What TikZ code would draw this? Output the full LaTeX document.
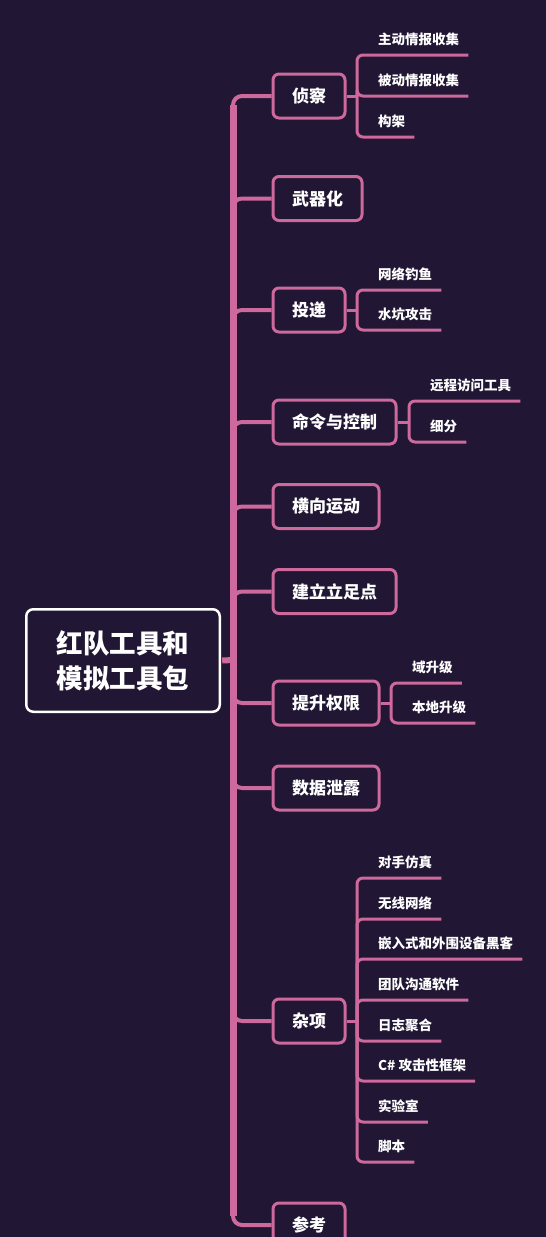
\documentclass[tikz,border=0pt]{standalone}
\usepackage{fontspec}
\newfontfamily\cjk{Noto Sans CJK SC}

\definecolor{bgpurple}{HTML}{211633}
\definecolor{mmpink}{HTML}{CD699C}

\tikzset{
  rootbox/.style={draw=white, line width=2.5pt, rounded corners=7pt, fill=bgpurple,
    text=white, align=center, minimum width=193.5pt, minimum height=102.5pt,
    font=\cjk\bfseries\fontsize{26.5}{35}\selectfont},
  topicbox/.style={draw=mmpink, line width=3pt, rounded corners=6pt, fill=bgpurple,
    text=white, anchor=west, minimum height=44pt, inner xsep=19pt, inner ysep=0pt,
    font=\cjk\bfseries\fontsize{17}{20}\selectfont},
  leaf/.style={text=white, anchor=south west, inner xsep=9pt, inner ysep=8pt,
    text height=11.5pt, text depth=2.5pt,
    font=\cjk\bfseries\fontsize{13.5}{16}\selectfont},
  trunk/.style={draw=mmpink, line width=7pt},
  branchline/.style={draw=mmpink, line width=4pt, rounded corners=9pt},
  leafline/.style={draw=mmpink, line width=3pt, rounded corners=6pt},
}

\begin{document}
\begin{tikzpicture}[x=1pt, y=-1pt]
    \useasboundingbox (0,0) rectangle (546,1237);
    \fill[bgpurple] (0,0) rectangle (546,1237);

    % root and trunk
    \node[rootbox] (root) at (123,660.5) {红队工具和\\模拟工具包};
    \coordinate (hub) at (233,660);

    % main topics
    \node[topicbox] (recon)    at (271.5,96)   {侦察};
    \node[topicbox] (weapon)   at (271.5,198.5) {武器化};
    \node[topicbox] (deliver)  at (271.5,310)  {投递};
    \node[topicbox] (cnc)      at (271.5,422)  {命令与控制};
    \node[topicbox] (lateral)  at (271.5,506.5) {横向运动};
    \node[topicbox] (foothold) at (271.5,591.5) {建立立足点};
    \node[topicbox] (privesc)  at (271.5,703)  {提升权限};
    \node[topicbox] (exfil)    at (271.5,788)  {数据泄露};
    \node[topicbox] (misc)     at (271.5,1021) {杂项};
    \node[topicbox] (refs)     at (271.5,1225) {参考};

    \draw[trunk] ([yshift=-9pt]hub |- recon.west) -- ([yshift=9pt]hub |- refs.west);
    \draw[trunk, line width=6pt] ([xshift=1.2pt]root.east) -- (hub);
    \foreach \t in {recon,weapon,deliver,cnc,lateral,foothold,privesc,exfil,misc,refs}
      \draw[branchline] (hub) |- (\t.west);

    % leaves: recon
    \coordinate (reconfork) at (357,96);
    \node[leaf] (recon1) at (369,55)  {主动情报收集};
    \node[leaf] (recon2) at (369,96)  {被动情报收集};
    \node[leaf] (recon3) at (369,137) {构架};

    % leaves: delivery
    \coordinate (deliverfork) at (357,310);
    \node[leaf] (deliver1) at (369,290) {网络钓鱼};
    \node[leaf] (deliver2) at (369,330) {水坑攻击};

    % leaves: c2
    \coordinate (cncfork) at (409,422);
    \node[leaf] (cnc1) at (421,401) {远程访问工具};
    \node[leaf] (cnc2) at (421,442) {细分};

    % leaves: privilege escalation
    \coordinate (privescfork) at (391,703);
    \node[leaf] (privesc1) at (403,683) {域升级};
    \node[leaf] (privesc2) at (403,723) {本地升级};

    % leaves: misc
    \coordinate (miscfork) at (357,1021);
    \node[leaf] (misc1) at (369,878)  {对手仿真};
    \node[leaf] (misc2) at (369,919)  {无线网络};
    \node[leaf] (misc3) at (369,959)  {嵌入式和外围设备黑客};
    \node[leaf] (misc4) at (369,1000) {团队沟通软件};
    \node[leaf] (misc5) at (369,1041) {日志聚合};
    \node[leaf] (misc6) at (369,1081) {C\# 攻击性框架};
    \node[leaf] (misc7) at (369,1122) {实验室};
    \node[leaf] (misc8) at (369,1162) {脚本};

    \draw[leafline] (recon.east) -- (reconfork);
    \draw[leafline] (deliver.east) -- (deliverfork);
    \draw[leafline] (cnc.east) -- (cncfork);
    \draw[leafline] (privesc.east) -- (privescfork);
    \draw[leafline] (misc.east) -- (miscfork);
    \foreach \l in {1,2,3}
      \draw[leafline] (reconfork) |- (recon\l.south east);
    \foreach \l in {1,2} {
      \draw[leafline] (deliverfork) |- (deliver\l.south east);
      \draw[leafline] (cncfork) |- (cnc\l.south east);
      \draw[leafline] (privescfork) |- (privesc\l.south east);
    }
    \foreach \l in {1,...,8}
      \draw[leafline] (miscfork) |- (misc\l.south east);
\end{tikzpicture}
\end{document}
